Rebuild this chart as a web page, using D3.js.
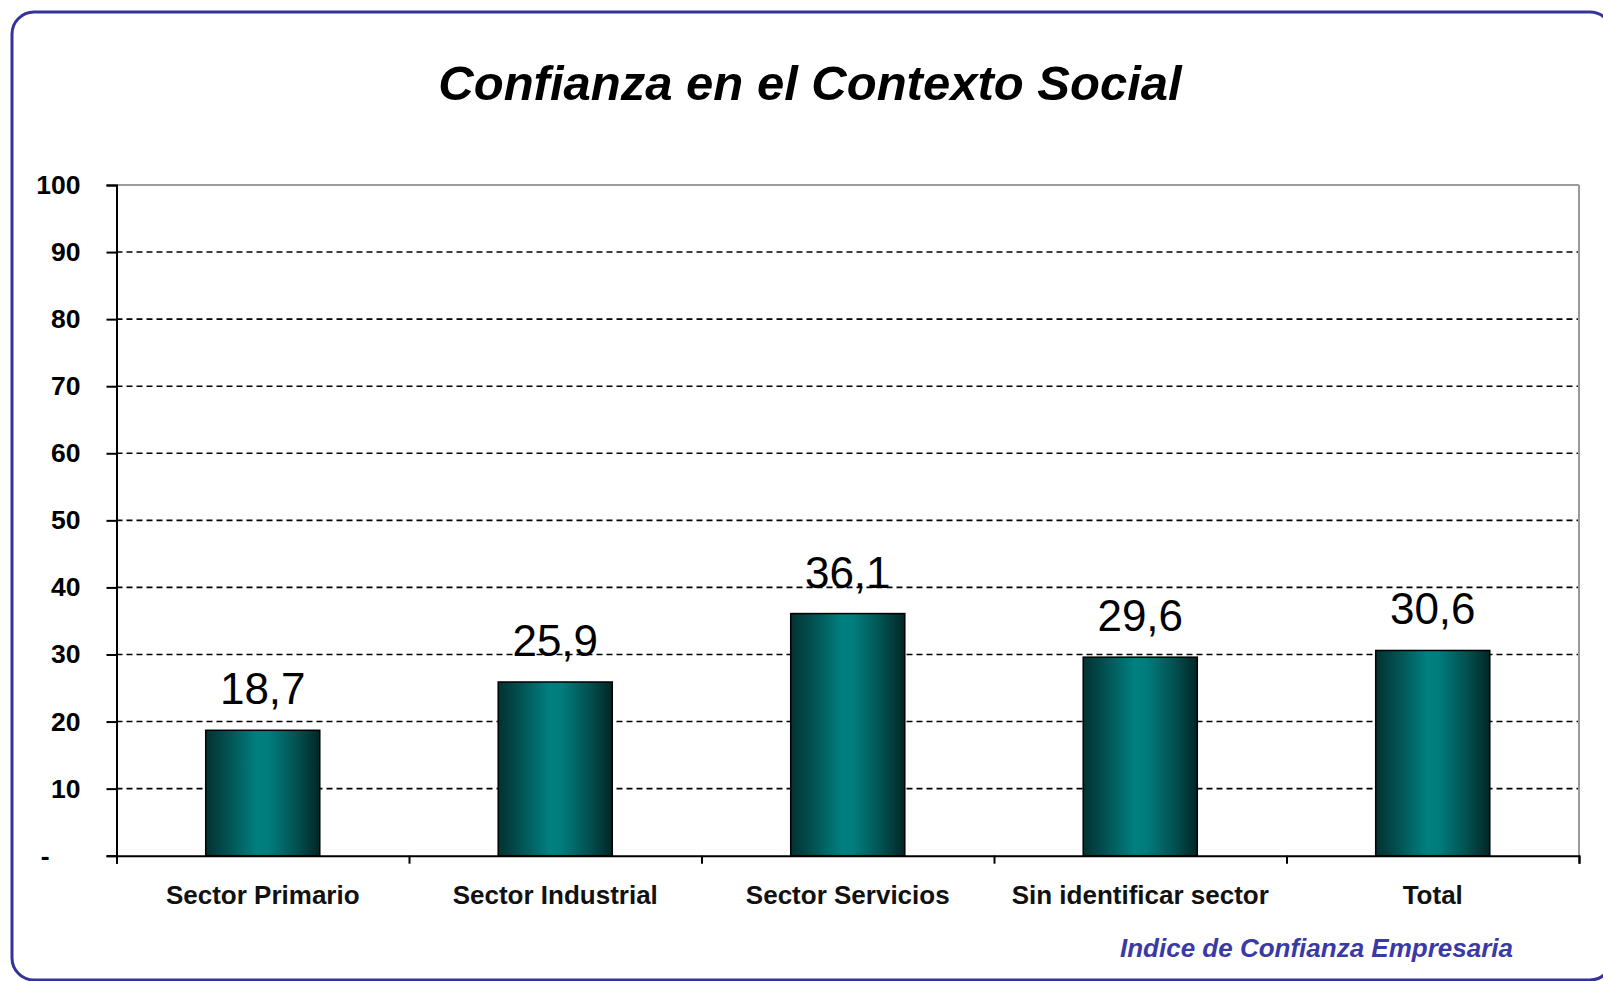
<!DOCTYPE html>
<html>
<head>
<meta charset="utf-8">
<script src="https://cdn.jsdelivr.net/npm/d3@7"></script>
<style>
  html, body { margin: 0; padding: 0; background: #ffffff; }
  svg { display: block; }
</style>
</head>
<body>
<svg id="chart" width="1603" height="981"></svg>
<script>
// ---- Data ----
const categories = ["Sector Primario", "Sector Industrial", "Sector Servicios", "Sin identificar sector", "Total"];
const values = [18.7, 25.9, 36.1, 29.6, 30.6];
const yTicks = [0, 10, 20, 30, 40, 50, 60, 70, 80, 90, 100];
const titleText = "Confianza en el Contexto Social";
const sourceText = "Indice de Confianza Empresaria";

// ---- Layout ----
const W = 1603, H = 981;
const plot = { left: 116.5, right: 1579, top: 185, bottom: 855.7 };
const FONT = "'Liberation Sans', Arial, Helvetica, sans-serif";

const svg = d3.select("#chart");
const esLocale = d3.formatLocale({ decimal: ",", thousands: ".", grouping: [3], currency: ["", " €"] });
const fmt = esLocale.format(".1f");

// gradient for bars
const defs = svg.append("defs");
const grad = defs.append("linearGradient").attr("id", "barGrad")
  .attr("x1", "0%").attr("x2", "100%").attr("y1", "0%").attr("y2", "0%");
[[0, "#023232"], [0.18, "#024f4f"], [0.45, "#008080"], [0.55, "#007d7d"], [0.8, "#035050"], [1, "#012626"]]
  .forEach(([o, c]) => grad.append("stop").attr("offset", o).attr("stop-color", c));

// frame
svg.append("rect")
  .attr("x", 12).attr("y", 12).attr("width", 1600).attr("height", 968)
  .attr("rx", 22).attr("ry", 22)
  .attr("fill", "#ffffff").attr("stroke", "#333399").attr("stroke-width", 3);

// title
svg.append("text")
  .attr("x", 810).attr("y", 100)
  .attr("text-anchor", "middle")
  .attr("font-family", FONT).attr("font-size", 49).attr("font-weight", "bold").attr("font-style", "italic")
  .attr("fill", "#000000")
  .text(titleText);

// scales
const x = d3.scaleBand().domain(categories)
  .range([plot.left, plot.right]).paddingInner(0.61).paddingOuter(0.305);
const xb = d3.scaleLinear().domain([0, categories.length]).range([plot.left, plot.right]);
const y = d3.scaleLinear().domain([0, 100]).range([plot.bottom, plot.top]);

// gridlines
const grid = svg.append("g");
grid.selectAll("line.grid")
  .data(yTicks.filter(d => d > 0 && d < 100))
  .join("line")
  .attr("x1", plot.left).attr("x2", plot.right)
  .attr("y1", d => y(d)).attr("y2", d => y(d))
  .attr("stroke", "#000000").attr("stroke-width", 1.6).attr("stroke-dasharray", "6,4");
// top and right plot border (gray)
grid.append("line")
  .attr("x1", plot.left).attr("x2", plot.right).attr("y1", y(100)).attr("y2", y(100))
  .attr("stroke", "#9a9a9a").attr("stroke-width", 2);
grid.append("line")
  .attr("x1", plot.right).attr("x2", plot.right).attr("y1", y(100)).attr("y2", y(0))
  .attr("stroke", "#9a9a9a").attr("stroke-width", 2);

// bars
svg.append("g").selectAll("rect")
  .data(values.map((v, i) => ({ c: categories[i], v })))
  .join("rect")
  .attr("x", d => x(d.c))
  .attr("y", d => y(d.v))
  .attr("width", x.bandwidth())
  .attr("height", d => y(0) - y(d.v))
  .attr("fill", "url(#barGrad)")
  .attr("stroke", "#000000").attr("stroke-width", 1.5);

// value labels
svg.append("g").selectAll("text")
  .data(values.map((v, i) => ({ c: categories[i], v })))
  .join("text")
  .attr("x", d => x(d.c) + x.bandwidth() / 2)
  .attr("y", d => y(d.v) - 26)
  .attr("text-anchor", "middle")
  .attr("font-family", FONT).attr("font-size", 44)
  .attr("fill", "#000000")
  .text(d => fmt(d.v));

// y axis
const yAxis = svg.append("g")
  .attr("transform", `translate(${plot.left},0)`)
  .call(d3.axisLeft(y).tickValues(yTicks).tickSize(10).tickPadding(26)
    .tickFormat(d => d === 0 ? "-" : String(d)));
yAxis.select(".domain").attr("stroke", "#000000").attr("stroke-width", 2);
yAxis.selectAll(".tick line").attr("stroke", "#000000").attr("stroke-width", 2);
yAxis.selectAll(".tick text")
  .attr("font-family", FONT).attr("font-size", 26.5).attr("font-weight", "bold")
  .attr("fill", "#000000");
yAxis.selectAll(".tick").filter(d => d === 0).select("text").attr("x", -67);

// x axis: boundary ticks
const xAxisTicks = svg.append("g")
  .attr("transform", `translate(0,${plot.bottom})`)
  .call(d3.axisBottom(xb).tickValues(d3.range(0, categories.length + 1)).tickSize(8).tickFormat(""));
xAxisTicks.select(".domain").attr("stroke", "#000000").attr("stroke-width", 2);
xAxisTicks.selectAll(".tick line").attr("stroke", "#000000").attr("stroke-width", 2);

// x axis: category labels
const xAxisLabels = svg.append("g")
  .attr("transform", `translate(0,${plot.bottom})`)
  .call(d3.axisBottom(x).tickSize(0).tickPadding(0));
xAxisLabels.select(".domain").remove();
xAxisLabels.selectAll(".tick text")
  .attr("dy", null).attr("y", 48)
  .attr("font-family", FONT).attr("font-size", 26).attr("font-weight", "bold")
  .attr("fill", "#111111");

// source
svg.append("text")
  .attr("x", 1513).attr("y", 957)
  .attr("text-anchor", "end")
  .attr("font-family", FONT).attr("font-size", 26).attr("font-weight", "bold").attr("font-style", "italic")
  .attr("fill", "#3a3aa6")
  .text(sourceText);
</script>
</body>
</html>
